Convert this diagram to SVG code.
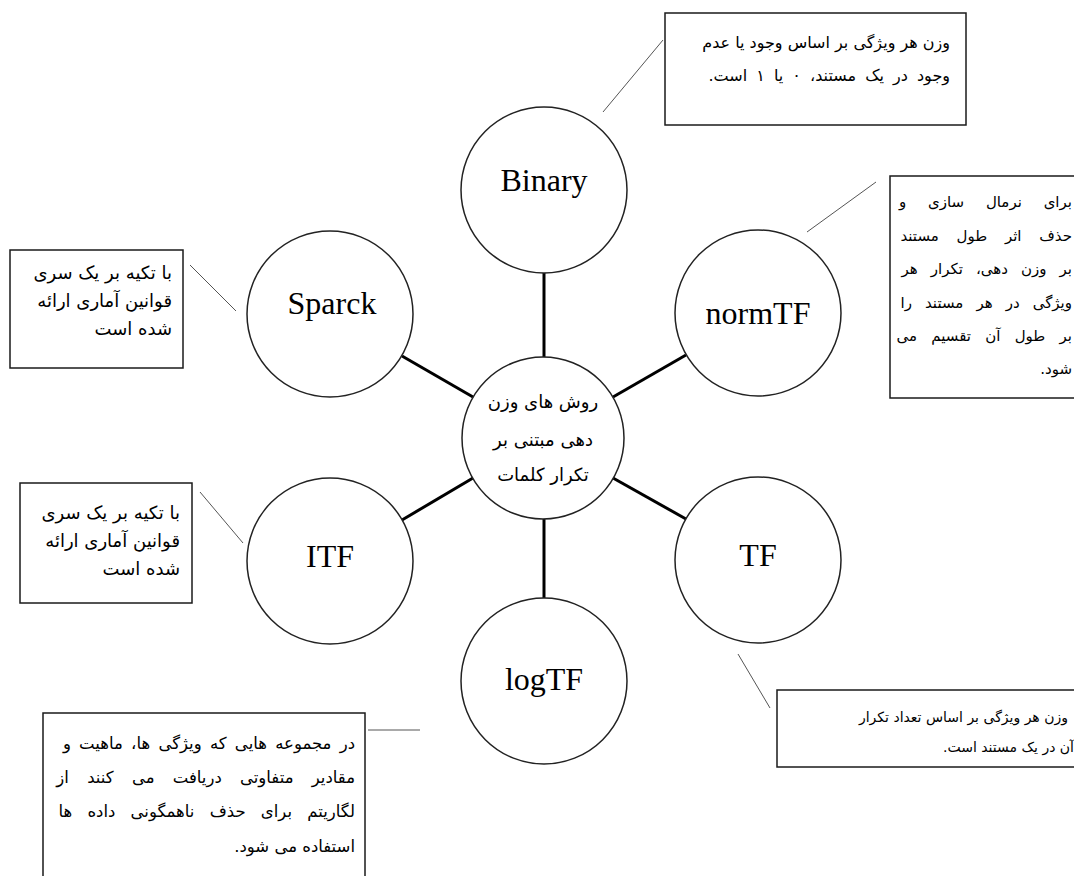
<svg xmlns="http://www.w3.org/2000/svg" width="1074" height="876" viewBox="0 0 1074 876">
<style>
.box{fill:#fff;stroke:#1a1a1a;stroke-width:1.5}
.node{fill:#fff;stroke:#222;stroke-width:1.5}
.conn{stroke:#000;stroke-width:3;fill:none}
.lead{stroke:#555;stroke-width:1;fill:none}
.fa{font-family:"DejaVu Sans",sans-serif;font-size:15px;direction:rtl;text-anchor:start;fill:#000}
.fc{font-family:"DejaVu Sans",sans-serif;font-size:18px;text-anchor:middle;fill:#000}
.lbl{font-family:"Liberation Serif",serif;font-size:32px;text-anchor:middle;fill:#000}
</style>
<rect width="1074" height="876" fill="#fff"/>
<g id="connectors">
<line class="conn" x1="544" y1="272" x2="544" y2="357"/>
<line class="conn" x1="402" y1="356" x2="473" y2="397"/>
<line class="conn" x1="686" y1="355" x2="613" y2="397"/>
<line class="conn" x1="402" y1="520" x2="473" y2="478"/>
<line class="conn" x1="686" y1="519" x2="613" y2="478"/>
<line class="conn" x1="544" y1="519" x2="544" y2="598"/>
<line class="lead" x1="603" y1="112" x2="663" y2="40"/>
<line class="lead" x1="807" y1="232" x2="876" y2="182"/>
<line class="lead" x1="190" y1="265" x2="236" y2="311"/>
<line class="lead" x1="200" y1="492" x2="243" y2="543"/>
<line class="lead" x1="738" y1="654" x2="770" y2="708"/>
<line class="lead" x1="368" y1="730" x2="420" y2="730"/>
</g>
<g id="center">
<circle class="node" cx="543" cy="438" r="81"/>
<text class="fc" x="543" y="408">روش های وزن</text>
<text class="fc" x="543" y="446">دهی مبتنی بر</text>
<text class="fc" x="543" y="481">تکرار کلمات</text>
</g>
<g id="binary">
<circle class="node" cx="544" cy="190" r="83"/>
<text class="lbl" x="544" y="191">Binary</text>
</g>
<g id="sparck">
<circle class="node" cx="330" cy="314" r="83"/>
<text class="lbl" x="332" y="314">Sparck</text>
</g>
<g id="normtf">
<circle class="node" cx="758" cy="313" r="83"/>
<text class="lbl" x="758" y="324">normTF</text>
</g>
<g id="itf">
<circle class="node" cx="330" cy="561" r="83"/>
<text class="lbl" x="330" y="567">ITF</text>
</g>
<g id="tf">
<circle class="node" cx="758" cy="560" r="83"/>
<text class="lbl" x="758" y="566">TF</text>
</g>
<g id="logtf">
<circle class="node" cx="544" cy="681" r="83"/>
<text class="lbl" x="544" y="690">logTF</text>
</g>
<g id="note-binary">
<rect class="box" x="665" y="13" width="301" height="112"/>
<text class="fa" x="950" y="48" style="font-size:16px">وزن هر ویژگی بر اساس وجود یا عدم</text>
<text class="fa" x="950" y="81" style="font-size:16px;word-spacing:4px">وجود در یک مستند، ۰ یا ۱ است.</text>
</g>
<g id="note-normtf">
<rect class="box" x="890" y="176" width="200" height="222"/>
<text class="fa" x="1072" y="207" style="word-spacing:17px">برای نرمال سازی و</text>
<text class="fa" x="1072" y="241" style="word-spacing:13px">حذف اثر طول مستند</text>
<text class="fa" x="1072" y="274" style="word-spacing:8.3px">بر وزن دهی، تکرار هر</text>
<text class="fa" x="1072" y="308" style="word-spacing:8.3px">ویژگی در هر مستند را</text>
<text class="fa" x="1072" y="341" style="word-spacing:9.5px">بر طول آن تقسیم می</text>
<text class="fa" x="1072" y="374">شود.</text>
</g>
<g id="note-sparck">
<rect class="box" x="10" y="250" width="173" height="118"/>
<text class="fa" x="172" y="279" style="font-size:18px">با تکیه بر یک سری</text>
<text class="fa" x="172" y="307" style="font-size:18px">قوانین آماری ارائه</text>
<text class="fa" x="172" y="335" style="font-size:18px">شده است</text>
</g>
<g id="note-itf">
<rect class="box" x="20" y="483" width="172" height="120"/>
<text class="fa" x="180" y="519" style="font-size:18px">با تکیه بر یک سری</text>
<text class="fa" x="180" y="547" style="font-size:18px">قوانین آماری ارائه</text>
<text class="fa" x="180" y="575" style="font-size:18px">شده است</text>
</g>
<g id="note-tf">
<rect class="box" x="777" y="690" width="310" height="77"/>
<text class="fa" x="1068" y="722" style="font-size:14px">وزن هر ویژگی بر اساس تعداد تکرار</text>
<text class="fa" x="1074" y="752" style="font-size:14px">آن در یک مستند است.</text>
</g>
<g id="note-logtf">
<rect class="box" x="43" y="713" width="322" height="175"/>
<text class="fa" x="355" y="749" style="font-size:16.5px;word-spacing:3px">در مجموعه هایی که ویژگی ها، ماهیت و</text>
<text class="fa" x="355" y="783" style="font-size:16.5px;word-spacing:13px">مقادیر متفاوتی دریافت می کنند از</text>
<text class="fa" x="355" y="817" style="font-size:16.5px;word-spacing:10px">لگاریتم برای حذف ناهمگونی داده ها</text>
<text class="fa" x="355" y="852" style="font-size:16.5px">استفاده می شود.</text>
</g>
</svg>
